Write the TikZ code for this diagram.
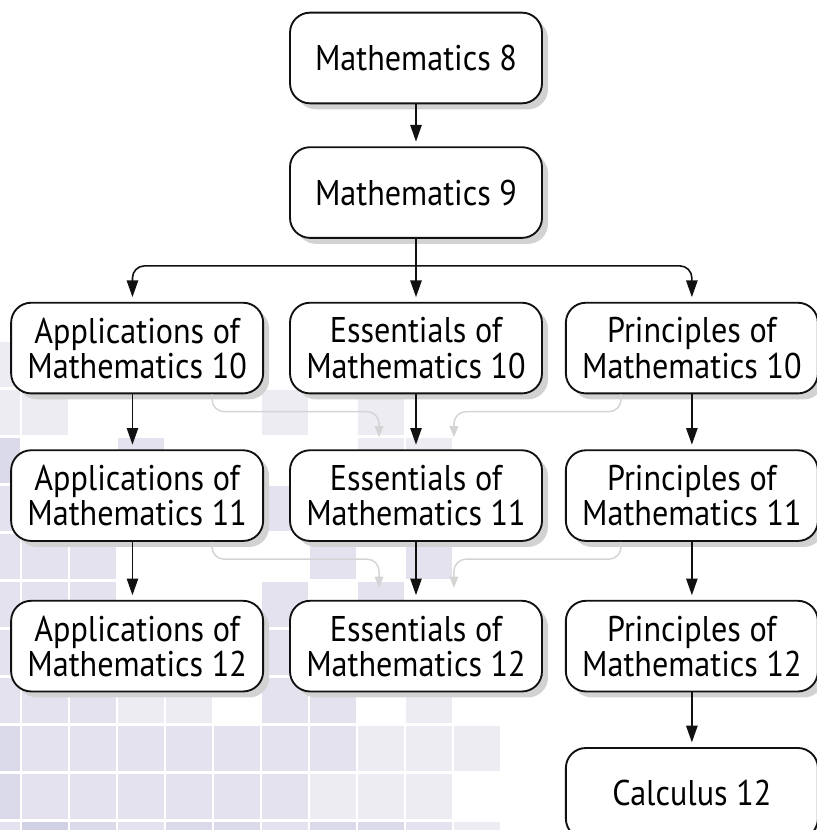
\documentclass[tikz,border=0pt]{standalone}
\usepackage{fontspec}
\setmainfont{PT Sans}[FakeStretch=0.9]
\usetikzlibrary{arrows.meta,positioning,shadows,calc}
\definecolor{ink}{HTML}{111111}
\definecolor{ghost}{HTML}{D4D4D4}
\definecolor{shade}{HTML}{D2D2D2}
\definecolor{tileA}{HTML}{EDECF3}
\definecolor{tileB}{HTML}{E3E2EE}
\definecolor{tileC}{HTML}{DADAEA}
\definecolor{tileD}{HTML}{D1D1E5}
\tikzset{
  course/.style={rectangle, rounded corners=15pt, draw=ink, line width=1.4pt,
              fill=white, minimum width=189pt, minimum height=68pt,
              align=center, inner sep=2pt,
              font=\fontsize{26.8}{26.3}\selectfont,
              drop shadow={shadow xshift=4.5pt, shadow yshift=-4.5pt,
                           fill=shade, opacity=1}},
  fl/.style={-{Triangle[length=12.5pt,width=8.5pt]}, draw=ink, line width=1.2pt,
              shorten >=3.5pt},
  gl/.style={-{Triangle[length=8.5pt,width=6.5pt]}, draw=ghost, line width=1.1pt,
              shorten >=9pt, rounded corners=9pt},
}

\begin{document}
\begin{tikzpicture}[node distance=31.5pt and 18.75pt]
\useasboundingbox (0,0) rectangle (612pt,-622.5pt);

% --- background tiles -----------------------------------------------------
\foreach \cx/\cy/\tone in {0/-1/tileA,
  0/0/tileA, 1/0/tileA, 6/0/tileA, 8/0/tileA,
  0/1/tileC, 3/1/tileB, 8/1/tileA, 9/1/tileA,
  0/2/tileB, 6/2/tileB,
  0/3/tileB, 1/3/tileB, 2/3/tileB, 7/3/tileB, 9/3/tileB,
  0/4/tileB, 1/4/tileB, 2/4/tileB, 6/4/tileB, 8/4/tileB,
  0/5/tileB, 6/5/tileB,
  0/6/tileB, 1/6/tileB, 2/6/tileB, 3/6/tileA, 4/6/tileA, 6/6/tileB, 7/6/tileB, 9/6/tileA,
  0/7/tileC, 1/7/tileB, 2/7/tileB, 3/7/tileB, 4/7/tileB, 5/7/tileB, 6/7/tileB,
  7/7/tileB, 8/7/tileA, 9/7/tileA, 10/7/tileA,
  0/8/tileC, 1/8/tileB, 2/8/tileB, 3/8/tileB, 4/8/tileB, 5/8/tileB, 6/8/tileB,
  7/8/tileA, 8/8/tileA, 9/8/tileA,
  0/9/tileB, 1/9/tileD, 2/9/tileC, 3/9/tileB, 4/9/tileC, 5/9/tileC, 6/9/tileB,
  7/9/tileC, 8/9/tileC, 9/9/tileB, 10/9/tileA}
  \fill[\tone] ({-19.5pt+36pt*(\cx)}, {-292.5pt-36pt*(\cy)}) rectangle ++(34.5pt,-33.75pt);

% --- courses --------------------------------------------------------------
\node[course] (m8) at (312pt,-43.5pt) {Mathematics 8};
\node[course, below=of m8] (m9) {Mathematics 9};
\node[course, below=47.25pt of m9] (ess10) {Essentials of\\Mathematics 10};
\node[course, left=of ess10] (app10) {Applications of\\Mathematics 10};
\node[course, right=16.5pt of ess10] (prin10) {Principles of\\Mathematics 10};
\node[course, below=41.25pt of app10] (app11) {Applications of\\Mathematics 11};
\node[course, below=41.25pt of ess10] (ess11) {Essentials of\\Mathematics 11};
\node[course, below=41.25pt of prin10] (prin11) {Principles of\\Mathematics 11};
\node[course, below=43.5pt of app11] (app12) {Applications of\\Mathematics 12};
\node[course, below=43.5pt of ess11] (ess12) {Essentials of\\Mathematics 12};
\node[course, below=43.5pt of prin11] (prin12) {Principles of\\Mathematics 12};
\node[course, below=41pt of prin12] (calc) {Calculus 12};

% --- main ladder ----------------------------------------------------------
\draw[fl] (m8) -- (m9);
\draw[fl] (m9) -- (ess10);
\coordinate (fork) at ($(m9.south)!0.43!(ess10.north)$);
\draw[fl, rounded corners=9pt] (fork) -| ([xshift=-3.5pt]app10.north);
\draw[fl, rounded corners=9pt] (fork) -| (prin10.north);
\draw[fl] ([xshift=-3.5pt]app10.south) -- ([xshift=-3.5pt]app11.north);
\draw[fl] (ess10) -- (ess11);
\draw[fl] (prin10) -- (prin11);
\draw[fl] ([xshift=-3.5pt]app11.south) -- ([xshift=-3.5pt]app12.north);
\draw[fl] (ess11) -- (ess12);
\draw[fl] (prin11) -- (prin12);
\draw[fl] (prin12) -- (calc);

% --- transfers into essentials ------------------------------------------
\draw[gl] ([xshift=-39pt]app10.south east) -- ++(0,-13pt) -| ([xshift=67.5pt]ess11.north west);
\draw[gl] ([xshift=42pt]prin10.south west) -- ++(0,-13pt) -| ([xshift=-66.75pt]ess11.north east);
\draw[gl] ([xshift=-39pt]app11.south east) -- ++(0,-13pt) -| ([xshift=67.5pt]ess12.north west);
\draw[gl] ([xshift=42pt]prin11.south west) -- ++(0,-13pt) -| ([xshift=-66.75pt]ess12.north east);
\end{tikzpicture}
\end{document}
